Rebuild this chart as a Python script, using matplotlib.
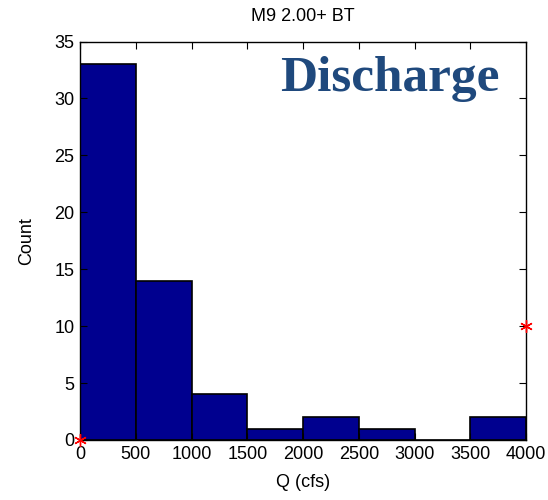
import matplotlib
matplotlib.use("Agg")
import matplotlib.pyplot as plt
import numpy as np

bin_edges = [0, 500, 1000, 1500, 2000, 2500, 3000, 3500, 4000]
counts = [33, 14, 4, 1, 2, 1, 0, 2]
marker_x = [0, 4000]
marker_y = [0, 10]
xticks = [0, 500, 1000, 1500, 2000, 2500, 3000, 3500, 4000]
yticks = [0, 5, 10, 15, 20, 25, 30, 35]

plt.rcParams['font.family'] = ['Liberation Sans', 'DejaVu Sans']

fig = plt.figure(figsize=(5.48, 5.0), dpi=100)
ax = fig.add_axes([0.146, 0.12, 0.814, 0.797])

lefts = bin_edges[:-1]
widths = np.diff(bin_edges)
ax.bar(lefts, counts, width=widths, align='edge', color='#00008F',
       edgecolor='black', linewidth=1.2)
ax.plot(marker_x, marker_y, linestyle='none', marker=(6, 2, 0), color='red',
        markersize=9, markeredgewidth=1.0, clip_on=False, zorder=5)

ax.set_xlim(0, 4000)
ax.set_ylim(0, 35)
ax.set_xticks(xticks)
ax.set_yticks(yticks)
ax.tick_params(direction='in', top=True, right=True, labelsize=13, length=5, pad=4)
for s in ax.spines.values():
    s.set_linewidth(1.0)
ax.set_xlabel('Q (cfs)', fontsize=13, labelpad=8)
ax.set_ylabel('Count', fontsize=13, labelpad=14)
ax.set_title('M9 2.00+ BT', fontsize=13, pad=15)
ax.text(0.94, 0.905, 'Discharge', transform=ax.transAxes, ha='right', va='center',
        fontsize=37, fontweight='bold', family='Liberation Serif', color='#1F497D')

fig.savefig('out.png', dpi=100)
